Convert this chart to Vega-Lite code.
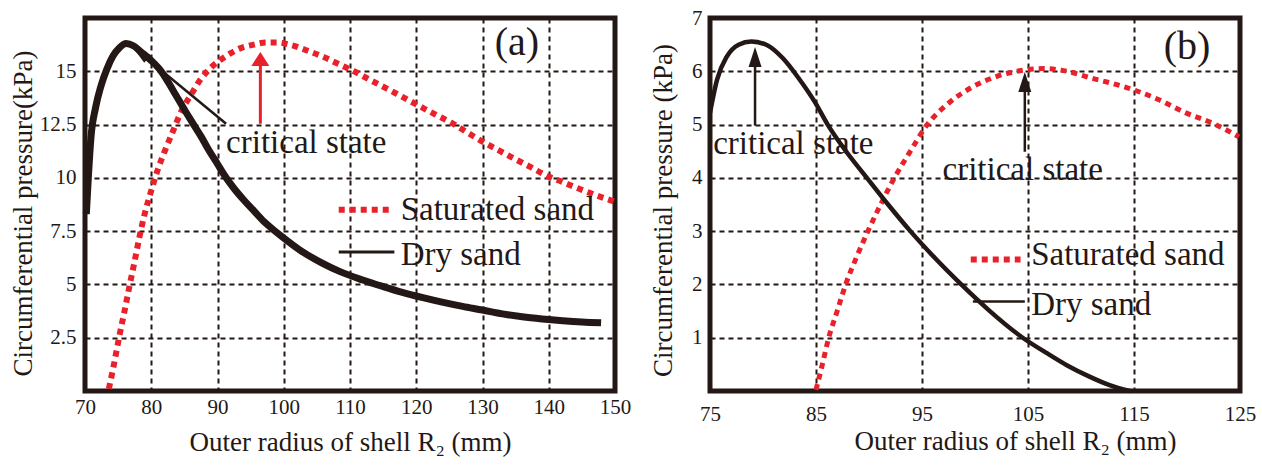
{
  "$schema": "https://vega.github.io/schema/vega-lite/v6.json",
  "background": "white",
  "padding": {"left": 6, "top": 4, "right": 0, "bottom": 0},
  "bounds": "flush",
  "spacing": 95,
  "config": {
    "view": {"stroke": "#231815", "strokeWidth": 5},
    "font": "Liberation Serif, Times New Roman, serif",
    "axis": {
      "domain": false, "ticks": false, "grid": true,
      "gridColor": "#231815", "gridDash": [5, 4], "gridWidth": 2, "gridOpacity": 1,
      "labelFont": "Liberation Serif, Times New Roman, serif", "labelFontSize": 21, "labelColor": "#231815",
      "labelFlush": false, "labelOverlap": false,
      "titleFont": "Liberation Serif, Times New Roman, serif", "titleFontSize": 27, "titleFontWeight": "normal", "titleColor": "#231815"
    },
    "text": {"font": "Liberation Serif, Times New Roman, serif", "color": "#231815"}
  },
  "datasets": {
    "a_dry": [
      {"r": 70.2, "p": 8.3}, {"r": 70.5, "p": 10.0}, {"r": 70.9, "p": 11.9}, {"r": 71.6, "p": 13.3},
      {"r": 72.4, "p": 14.3}, {"r": 73.3, "p": 15.1}, {"r": 74.2, "p": 15.7}, {"r": 75.2, "p": 16.1},
      {"r": 76.2, "p": 16.3}, {"r": 77.3, "p": 16.2}, {"r": 78.5, "p": 15.9}, {"r": 80.0, "p": 15.5},
      {"r": 81.5, "p": 15.0}, {"r": 83.3, "p": 14.1}, {"r": 85.2, "p": 13.1}, {"r": 86.4, "p": 12.5},
      {"r": 87.6, "p": 11.9}, {"r": 88.5, "p": 11.4}, {"r": 90.0, "p": 10.65}, {"r": 91.2, "p": 10.05},
      {"r": 92.5, "p": 9.5}, {"r": 94.0, "p": 8.95}, {"r": 95.5, "p": 8.45}, {"r": 97.0, "p": 7.95},
      {"r": 98.5, "p": 7.55}, {"r": 99.7, "p": 7.25}, {"r": 102.5, "p": 6.6}, {"r": 105.8, "p": 6.0},
      {"r": 108.5, "p": 5.6}, {"r": 111.8, "p": 5.22}, {"r": 115.0, "p": 4.9}, {"r": 117.9, "p": 4.63},
      {"r": 121.0, "p": 4.38}, {"r": 123.9, "p": 4.17}, {"r": 127.0, "p": 3.97}, {"r": 130.0, "p": 3.8},
      {"r": 133.0, "p": 3.62}, {"r": 136.0, "p": 3.48}, {"r": 139.0, "p": 3.38}, {"r": 142.1, "p": 3.3},
      {"r": 145.0, "p": 3.24}, {"r": 147.9, "p": 3.2}
    ],
    "a_sat": [
      {"r": 73.6, "p": 0.1}, {"r": 74.4, "p": 1.3}, {"r": 75.2, "p": 2.6}, {"r": 76.0, "p": 3.8},
      {"r": 76.7, "p": 4.9}, {"r": 77.5, "p": 6.1}, {"r": 78.2, "p": 7.2}, {"r": 79.0, "p": 8.3},
      {"r": 80.0, "p": 9.4}, {"r": 81.0, "p": 10.4}, {"r": 82.1, "p": 11.3}, {"r": 83.3, "p": 12.2},
      {"r": 84.5, "p": 13.1}, {"r": 86.0, "p": 13.9}, {"r": 87.4, "p": 14.6}, {"r": 88.6, "p": 15.05},
      {"r": 90.3, "p": 15.5}, {"r": 92.0, "p": 15.85}, {"r": 93.6, "p": 16.1}, {"r": 95.5, "p": 16.25},
      {"r": 97.3, "p": 16.35}, {"r": 99.0, "p": 16.35}, {"r": 100.9, "p": 16.25}, {"r": 103.3, "p": 16.0},
      {"r": 105.8, "p": 15.7}, {"r": 108.2, "p": 15.35}, {"r": 110.6, "p": 15.0}, {"r": 113.0, "p": 14.6},
      {"r": 115.5, "p": 14.2}, {"r": 117.9, "p": 13.8}, {"r": 120.3, "p": 13.4}, {"r": 122.7, "p": 13.0},
      {"r": 125.2, "p": 12.6}, {"r": 127.6, "p": 12.15}, {"r": 130.0, "p": 11.7}, {"r": 132.4, "p": 11.3},
      {"r": 134.8, "p": 10.9}, {"r": 137.3, "p": 10.5}, {"r": 139.7, "p": 10.1}, {"r": 142.1, "p": 9.8},
      {"r": 144.5, "p": 9.5}, {"r": 147.0, "p": 9.2}, {"r": 149.8, "p": 8.9}
    ],
    "b_dry": [
      {"r": 75.0, "p": 5.22}, {"r": 75.66, "p": 5.84}, {"r": 76.6, "p": 6.28}, {"r": 77.7, "p": 6.5},
      {"r": 78.9, "p": 6.56}, {"r": 80.4, "p": 6.49}, {"r": 81.9, "p": 6.24}, {"r": 83.4, "p": 5.86},
      {"r": 84.9, "p": 5.42}, {"r": 86.1, "p": 5.0}, {"r": 87.9, "p": 4.48}, {"r": 89.8, "p": 4.0},
      {"r": 91.8, "p": 3.5}, {"r": 93.9, "p": 3.0}, {"r": 96.2, "p": 2.5}, {"r": 98.7, "p": 2.0},
      {"r": 101.4, "p": 1.5}, {"r": 104.5, "p": 1.0}, {"r": 106.7, "p": 0.72}, {"r": 108.7, "p": 0.48},
      {"r": 110.8, "p": 0.27}, {"r": 112.7, "p": 0.11}, {"r": 114.6, "p": 0.0}
    ],
    "b_sat": [
      {"r": 85.0, "p": 0.02}, {"r": 85.6, "p": 0.5}, {"r": 86.2, "p": 1.0}, {"r": 87.0, "p": 1.5},
      {"r": 87.8, "p": 2.0}, {"r": 88.8, "p": 2.5}, {"r": 89.9, "p": 3.0}, {"r": 91.1, "p": 3.5},
      {"r": 92.4, "p": 4.0}, {"r": 93.9, "p": 4.5}, {"r": 95.5, "p": 5.0}, {"r": 97.5, "p": 5.4},
      {"r": 99.7, "p": 5.7}, {"r": 102.0, "p": 5.9}, {"r": 104.5, "p": 6.02}, {"r": 106.5, "p": 6.05},
      {"r": 108.7, "p": 6.0}, {"r": 111.0, "p": 5.87}, {"r": 113.0, "p": 5.77}, {"r": 115.0, "p": 5.65},
      {"r": 117.3, "p": 5.47}, {"r": 119.9, "p": 5.22}, {"r": 122.7, "p": 5.0}, {"r": 124.9, "p": 4.77}
    ]
  },
  "hconcat": [
    {
      "width": 530,
      "height": 373,
      "layer": [
        {
          "data": {"name": "a_sat"},
          "mark": {"type": "line", "color": "#e8212a", "strokeWidth": 6, "strokeDash": [6, 5], "interpolate": "monotone"},
          "encoding": {
            "x": {"field": "r", "type": "quantitative", "scale": {"domain": [70, 150], "nice": false, "zero": false},
                  "axis": {"values": [70, 80, 90, 100, 110, 120, 130, 140, 150], "format": "d", "title": "Outer radius of shell R₂ (mm)", "labelPadding": 5, "titlePadding": 12}},
            "y": {"field": "p", "type": "quantitative", "scale": {"domain": [0, 17.5], "nice": false, "zero": false},
                  "axis": {"values": [2.5, 5, 7.5, 10, 12.5, 15], "format": ".1~f", "title": "Circumferential pressure(kPa)", "labelPadding": 9, "titlePadding": 2, "titleY": 195}}
          }
        },
        {
          "data": {"name": "a_dry"},
          "mark": {"type": "line", "color": "#231815", "strokeWidth": 7, "interpolate": "monotone"},
          "encoding": {"x": {"field": "r", "type": "quantitative"}, "y": {"field": "p", "type": "quantitative"}}
        },
        {
          "data": {"values": [{"r": 108.3, "r2": 116.1, "p": 8.5}]},
          "mark": {"type": "rule", "color": "#e8212a", "strokeWidth": 6, "strokeDash": [6, 5]},
          "encoding": {"x": {"field": "r", "type": "quantitative"}, "x2": {"field": "r2"}, "y": {"field": "p", "type": "quantitative"}}
        },
        {
          "data": {"values": [{"r": 108.3, "r2": 116.7, "p": 6.52}]},
          "mark": {"type": "rule", "color": "#231815", "strokeWidth": 3},
          "encoding": {"x": {"field": "r", "type": "quantitative"}, "x2": {"field": "r2"}, "y": {"field": "p", "type": "quantitative"}}
        },
        {
          "data": {"values": [{"r": 91.3, "p": 12.54, "r2": 78.25, "p2": 15.88}]},
          "mark": {"type": "rule", "color": "#231815", "strokeWidth": 2.5},
          "encoding": {"x": {"field": "r", "type": "quantitative"}, "x2": {"field": "r2"}, "y": {"field": "p", "type": "quantitative"}, "y2": {"field": "p2"}}
        },
        {
          "data": {"values": [{"r": 78.25, "p": 15.88}]},
          "mark": {"type": "point", "filled": true, "opacity": 1, "color": "#231815", "shape": "M0,-1L-0.5,1L0.5,1Z", "size": 400, "angle": 309},
          "encoding": {"x": {"field": "r", "type": "quantitative"}, "y": {"field": "p", "type": "quantitative"}}
        },
        {
          "data": {"values": [{"r": 96.47, "p": 12.54, "p2": 15.6}]},
          "mark": {"type": "rule", "color": "#e8212a", "strokeWidth": 3},
          "encoding": {"x": {"field": "r", "type": "quantitative"}, "y": {"field": "p", "type": "quantitative"}, "y2": {"field": "p2"}}
        },
        {
          "data": {"values": [{"r": 96.47, "p": 15.58}]},
          "mark": {"type": "point", "filled": true, "opacity": 1, "color": "#e8212a", "shape": "M0,-0.78L-1,0.78L1,0.78Z", "size": 324},
          "encoding": {"x": {"field": "r", "type": "quantitative"}, "y": {"field": "p", "type": "quantitative"}}
        },
        {
          "data": {"values": [
            {"r": 91.3, "p": 11.64, "t": "critical state"},
            {"r": 117.65, "p": 8.5, "t": "Saturated sand"},
            {"r": 117.65, "p": 6.38, "t": "Dry sand"}
          ]},
          "mark": {"type": "text", "align": "left", "baseline": "middle", "fontSize": 33, "font": "Liberation Serif, Times New Roman, serif", "color": "#231815"},
          "encoding": {"x": {"field": "r", "type": "quantitative"}, "y": {"field": "p", "type": "quantitative"}, "text": {"field": "t"}}
        },
        {
          "data": {"values": [{"r": 135.2, "p": 16.33, "t": "(a)"}]},
          "mark": {"type": "text", "align": "center", "baseline": "middle", "fontSize": 40, "font": "Liberation Serif, Times New Roman, serif", "color": "#231815"},
          "encoding": {"x": {"field": "r", "type": "quantitative"}, "y": {"field": "p", "type": "quantitative"}, "text": {"field": "t"}}
        }
      ]
    },
    {
      "width": 530,
      "height": 373,
      "layer": [
        {
          "data": {"name": "b_sat"},
          "mark": {"type": "line", "color": "#e8212a", "strokeWidth": 5, "strokeDash": [6, 5], "interpolate": "monotone"},
          "encoding": {
            "x": {"field": "r", "type": "quantitative", "scale": {"domain": [75, 125], "nice": false, "zero": false},
                  "axis": {"values": [75, 85, 95, 105, 115, 125], "format": "d", "title": "Outer radius of shell R₂ (mm)", "labelPadding": 12, "titlePadding": 4, "titleX": 305}},
            "y": {"field": "p", "type": "quantitative", "scale": {"domain": [0, 7], "nice": false, "zero": false},
                  "axis": {"values": [1, 2, 3, 4, 5, 6, 7], "format": "d", "title": "Circumferential pressure (kPa)", "labelPadding": 8, "titlePadding": 14, "titleY": 192}}
          }
        },
        {
          "data": {"name": "b_dry"},
          "mark": {"type": "line", "color": "#231815", "strokeWidth": 4.5, "interpolate": "monotone"},
          "encoding": {"x": {"field": "r", "type": "quantitative"}, "y": {"field": "p", "type": "quantitative"}}
        },
        {
          "data": {"values": [{"r": 99.6, "r2": 104.3, "p": 2.47}]},
          "mark": {"type": "rule", "color": "#e8212a", "strokeWidth": 6, "strokeDash": [6, 5]},
          "encoding": {"x": {"field": "r", "type": "quantitative"}, "x2": {"field": "r2"}, "y": {"field": "p", "type": "quantitative"}}
        },
        {
          "data": {"values": [{"r": 99.8, "r2": 104.7, "p": 1.68}]},
          "mark": {"type": "rule", "color": "#231815", "strokeWidth": 2.5},
          "encoding": {"x": {"field": "r", "type": "quantitative"}, "x2": {"field": "r2"}, "y": {"field": "p", "type": "quantitative"}}
        },
        {
          "data": {"values": [{"r": 79.25, "p": 4.98, "p2": 6.27}, {"r": 104.7, "p": 4.49, "p2": 5.8}]},
          "mark": {"type": "rule", "color": "#231815", "strokeWidth": 2.5},
          "encoding": {"x": {"field": "r", "type": "quantitative"}, "y": {"field": "p", "type": "quantitative"}, "y2": {"field": "p2"}}
        },
        {
          "data": {"values": [{"r": 79.25, "p": 6.27}, {"r": 104.7, "p": 5.8}]},
          "mark": {"type": "point", "filled": true, "opacity": 1, "color": "#231815", "shape": "M0,-1L-0.65,1L0.65,1Z", "size": 400},
          "encoding": {"x": {"field": "r", "type": "quantitative"}, "y": {"field": "p", "type": "quantitative"}}
        },
        {
          "data": {"values": [
            {"r": 75.3, "p": 4.64, "t": "critical state"},
            {"r": 105.3, "p": 2.55, "t": "Saturated sand"},
            {"r": 105.3, "p": 1.61, "t": "Dry sand"}
          ]},
          "mark": {"type": "text", "align": "left", "baseline": "middle", "fontSize": 33, "font": "Liberation Serif, Times New Roman, serif", "color": "#231815"},
          "encoding": {"x": {"field": "r", "type": "quantitative"}, "y": {"field": "p", "type": "quantitative"}, "text": {"field": "t"}}
        },
        {
          "data": {"values": [{"r": 104.5, "p": 4.14, "t": "critical state"}]},
          "mark": {"type": "text", "align": "center", "baseline": "middle", "fontSize": 33, "font": "Liberation Serif, Times New Roman, serif", "color": "#231815"},
          "encoding": {"x": {"field": "r", "type": "quantitative"}, "y": {"field": "p", "type": "quantitative"}, "text": {"field": "t"}}
        },
        {
          "data": {"values": [{"r": 120.0, "p": 6.46, "t": "(b)"}]},
          "mark": {"type": "text", "align": "center", "baseline": "middle", "fontSize": 40, "font": "Liberation Serif, Times New Roman, serif", "color": "#231815"},
          "encoding": {"x": {"field": "r", "type": "quantitative"}, "y": {"field": "p", "type": "quantitative"}, "text": {"field": "t"}}
        }
      ]
    }
  ]
}
